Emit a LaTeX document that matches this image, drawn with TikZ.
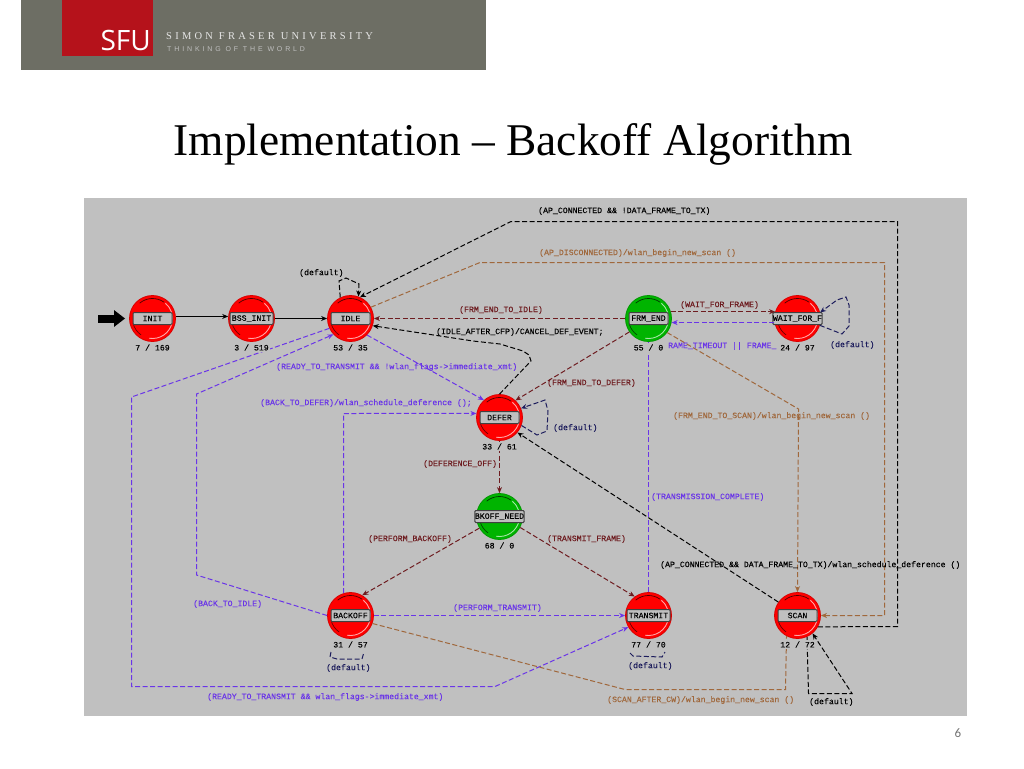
\documentclass[tikz,border=0pt]{standalone}
\usepackage{fontspec}
\setmainfont{Liberation Serif}
\setmonofont[FakeBold=0.1]{Liberation Mono}
\newfontfamily\sfufont{Open Sans}
\newfontfamily\simonfont[LetterSpace=31]{Liberation Serif}
\newfontfamily\thinkfont[LetterSpace=41]{Liberation Sans}
\newfontfamily\numfont{Carlito}
\usetikzlibrary{arrows.meta}
\definecolor{panel}{HTML}{C0C0C0}
\definecolor{band}{HTML}{6D6E64}
\definecolor{sfured}{HTML}{B5121B}
\definecolor{tblue}{HTML}{6A35E8}
\definecolor{tred}{HTML}{6E1C20}
\definecolor{tbrown}{HTML}{A0683C}
\definecolor{tnavy}{HTML}{1C1C5C}
\definecolor{stred}{HTML}{FF0000}
\definecolor{stgreen}{HTML}{00B400}
\tikzset{
  x=1pt,y=-1pt,
  tip/.style={-{Stealth[length=6pt,width=5pt]}},
  conn/.style={line width=1pt,dash pattern=on 5pt off 2.5pt},
  lbl/.style={anchor=west,inner sep=0pt,font=\ttfamily\fontsize{8.2}{8.2}\selectfont},
  statebody/.style={circle,minimum size=46pt,inner sep=0pt,draw=#1!85!black,line width=0.8pt,fill=#1},
  statelabel/.style={draw=black!75,rounded corners=1pt,fill=black!25,line width=1pt,minimum height=12pt,inner sep=0pt,font=\ttfamily\fontsize{8.2}{8.2}\selectfont},
  statecount/.style={inner sep=1pt,fill=panel,font=\ttfamily\fontsize{8.2}{8.2}\selectfont},
}
% name, x, y, colour, text, box width
\newcommand\mkstate[6]{%
  \node[statebody=#4] (#1) at (#2,#3) {};
  \begin{scope}[shift={(#1.center)},y=1pt]
    \draw[#4!35!white,line width=0.9pt] (-100:20) arc (-100:50:20);
    \draw[black!70!#4,line width=0.7pt] (55:20) arc (55:130:20);
    \draw[black!60!#4,line width=0.7pt] (-165:20) arc (-165:-125:20);
  \end{scope}
  \node[statelabel,minimum width=#6pt] (#1box) at (#1) {#5};
}
\newcommand\mkcount[2]{\node[statecount] (#1count) at ([yshift=-29pt]#1.center) {#2};}
\begin{document}
\begin{tikzpicture}
\useasboundingbox (0,0) rectangle (1024,768);
\fill[white] (0,0) rectangle (1024,768);
% header
\fill[band] (21,0) rectangle (486,70);
\fill[sfured] (62,0) rectangle (153,56);
\node[anchor=base east,inner sep=0pt,text=white,font=\sfufont\fontsize{28}{28}\selectfont] (sfu) at (151,51) {SFU};
\node[anchor=base west,inner sep=0pt,text=black!10,font=\simonfont\fontsize{10.5}{11}\selectfont] (simon) at (166,40) {SIMON FRASER UNIVERSITY};
\node[anchor=base west,inner sep=0pt,text=black!25,font=\thinkfont\fontsize{7}{7}\selectfont] (think) at (167,52) {THINKING OF THE WORLD};
% title
\node[inner sep=0pt,font=\fontsize{45.4}{46}\selectfont] (title) at (513,144) {Implementation – Backoff Algorithm};
\node[inner sep=0pt,text=black!55,font=\numfont\fontsize{13}{13}\selectfont] (pageno) at (958,733) {6};
% panel
\fill[panel] (84,198) rectangle (967,716);
% states
\mkstate{init}{152.5}{318.5}{stred}{INIT}{39}
\mkstate{bss}{251.5}{318.5}{stred}{BSS\_INIT}{43}
\mkstate{idle}{350.5}{318.5}{stred}{IDLE}{39}
\mkstate{frm}{648.5}{318.5}{stgreen}{FRM\_END}{39}
\mkstate{wait}{797.5}{318.5}{stred}{WAIT\_FOR\_F}{48}
\mkstate{defer}{499.5}{417.5}{stred}{DEFER}{39}
\mkstate{bkoff}{499.5}{516.5}{stgreen}{BKOFF\_NEED}{48}
\mkstate{backoff}{350.5}{615.5}{stred}{BACKOFF}{39}
\mkstate{transmit}{648.5}{615.5}{stred}{TRANSMIT}{43}
\mkstate{scan}{797.5}{615.5}{stred}{SCAN}{39}
% free ends
\coordinate (entry) at (98,318.5);
\coordinate (bkA) at (331,652);
\coordinate (bkB) at (364,652);
\coordinate (trA) at (630,653);
\coordinate (trB) at (665,652);
% connectors
\draw[line width=8pt,-{Triangle[length=11pt,width=16pt]},shorten >=4pt] (entry) -- (init.180);
\draw[tip,line width=0.9pt] (init.5) -- (bss.175);
\draw[tip,line width=0.9pt] (bss.0) -- (idle.180);
\draw[conn,tip] (idle.116) -- (339,281) -- (346,278) -- (359,284) -- (idle.70);
\draw[conn,tip] (scan.-29) -- (897.5,626.5) -- (897.5,221.5) -- (511,221.5) -- (idle.66);
\draw[conn,tip,tbrown] (idle.29) -- (480,262.5) -- (884.5,262.5) -- (884.5,615.5) -- (scan.0);
\draw[conn,tip,tred] (frm.180) -- (idle.0);
\draw[conn,tip] (defer.90) -- (531,361) -- (529,355) -- (523,351) -- (500,344) -- (473,341) -- (idle.-18);
\draw[conn,tip,tblue] (idle.-45) -- (defer.132);
\draw[conn,tip,tblue] (backoff.107) -- (343.5,413.5) -- (defer.170);
\draw[conn,tip,tnavy] (defer.-20) -- (537,435) -- (547,431) -- (548,411) -- (545,400) -- (defer.23);
\draw[conn,tip,tred] (frm.215) -- (defer.47);
\draw[conn,tip] (scan.145) -- (defer.-40);
\draw[conn,tip,tred] (defer.-90) -- (bkoff.90);
\draw[conn,tip,tred] (bkoff.210) -- (backoff.60);
\draw[conn,tip,tred] (bkoff.-28) -- (transmit.126);
\draw[conn,tip,tblue] (backoff.0) -- (transmit.180);
\draw[conn,tip,tblue] (idle.205) -- (131.5,397) -- (131.5,686.5) -- (495,686.5) -- (transmit.210);
\draw[conn,tip,tblue] (backoff.180) -- (196.5,575) -- (196.5,394) -- (idle.223);
\draw[conn,tblue] (transmit.90) -- (frm.-90);
\draw[conn,tip,tred] (frm.17) -- (wait.163);
\draw[conn,tip,tblue] (wait.190) -- (frm.-10);
\draw[conn,tip,tnavy] (wait.-17) -- (842,334) -- (849,326) -- (849,305) -- (846,297) -- (837,300) -- (wait.15);
\draw[conn,tip,tbrown] (frm.-37) -- (798.5,409) -- (scan.90);
\draw[conn,tbrown] (backoff.-20) -- (625,689.5) -- (785.5,689.5) -- (scan.242);
\draw[conn,tip] (scan.-66) -- (808.5,693.5) -- (852,693.5) -- (scan.-50);
\draw[conn,tnavy] (bkA) -- (330,657) -- (337,659) -- (362,659) -- (bkB);
\draw[conn,tnavy] (trA) -- (633,656) -- (662,657) -- (trB);
% counts lie over the connectors and hide them
\mkcount{init}{7 / 169}
\mkcount{bss}{3 / 519}
\mkcount{idle}{53 / 35}
\mkcount{frm}{55 / 0}
\mkcount{wait}{24 / 97}
\mkcount{defer}{33 / 61}
\mkcount{bkoff}{68 / 0}
\mkcount{backoff}{31 / 57}
\mkcount{transmit}{77 / 70}
\mkcount{scan}{12 / 72}
% labels
\node[lbl] (l01) at (299,273) {(default)};
\node[lbl] (l02) at (538,211) {(AP\_CONNECTED \&\& !DATA\_FRAME\_TO\_TX)};
\node[lbl,text=tbrown] (l03) at (539,253) {(AP\_DISCONNECTED)/wlan\_begin\_new\_scan ()};
\node[lbl,text=tred] (l04) at (459,310) {(FRM\_END\_TO\_IDLE)};
\node[lbl] (l05) at (436,332) {(IDLE\_AFTER\_CFP)/CANCEL\_DEF\_EVENT;};
\node[lbl,text=tblue] (l06) at (276,367) {(READY\_TO\_TRANSMIT \&\& !wlan\_flags->immediate\_xmt)};
\node[lbl,text=tblue] (l07) at (260,403) {(BACK\_TO\_DEFER)/wlan\_schedule\_deference ();};
\node[lbl,text=tred] (l08) at (547,383) {(FRM\_END\_TO\_DEFER)};
\node[lbl,text=tnavy] (l09) at (553,428) {(default)};
\node[lbl,text=tred] (l10) at (423,464) {(DEFERENCE\_OFF)};
\node[lbl,text=tblue] (l11) at (651,497) {(TRANSMISSION\_COMPLETE)};
\node[lbl,text=tred] (l12) at (368,539) {(PERFORM\_BACKOFF)};
\node[lbl,text=tred] (l13) at (547,539) {(TRANSMIT\_FRAME)};
\node[lbl] (l14) at (660,565) {(AP\_CONNECTED \&\& DATA\_FRAME\_TO\_TX)/wlan\_schedule\_deference ()};
\node[lbl,text=tblue] (l15) at (193,604) {(BACK\_TO\_IDLE)};
\node[lbl,text=tblue] (l16) at (453,608) {(PERFORM\_TRANSMIT)};
\node[lbl,text=tnavy] (l17) at (326,668) {(default)};
\node[lbl,text=tnavy] (l18) at (628,666) {(default)};
\node[lbl] (l19) at (809,702) {(default)};
\node[lbl,text=tblue] (l20) at (207,697) {(READY\_TO\_TRANSMIT \&\& wlan\_flags->immediate\_xmt)};
\node[lbl,text=tbrown] (l21) at (607,700) {(SCAN\_AFTER\_CW)/wlan\_begin\_new\_scan ()};
\node[lbl,text=tred] (l22) at (680,305) {(WAIT\_FOR\_FRAME)};
\node[lbl,text=tblue] (l23) at (668,346) {RAME\_TIMEOUT || FRAME\_};
\node[lbl,text=tbrown] (l24) at (673,416) {(FRM\_END\_TO\_SCAN)/wlan\_begin\_new\_scan ()};
\node[lbl,text=tnavy] (l25) at (830,345) {(default)};
\end{tikzpicture}
\end{document}
